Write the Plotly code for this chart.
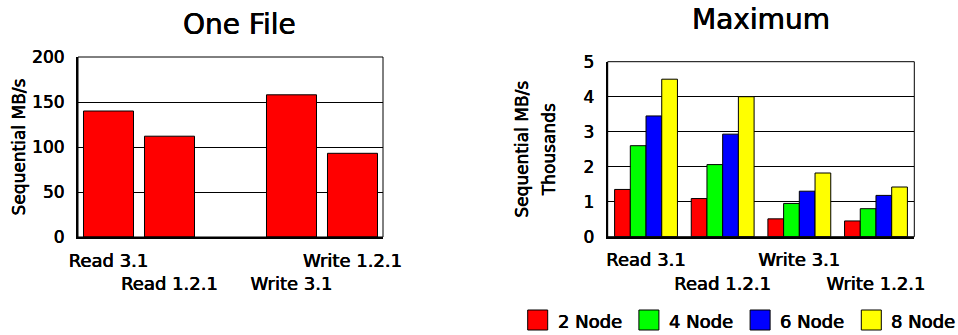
import plotly.graph_objects as go

# ---------------- data ----------------
one_file_labels = ["Read 3.1", "Read 1.2.1", "", "Write 3.1", "Write 1.2.1"]
one_file_values = [140, 112, None, 158, 93]

max_labels = ["Read 3.1", "Read 1.2.1", "Write 3.1", "Write 1.2.1"]
node_names = ["2 Node", "4 Node", "6 Node", "8 Node"]
node_colors = ["#FF0000", "#00FF00", "#0000FF", "#FFFF00"]
node_2 = [1.35, 1.09, 0.51, 0.45]
node_4 = [2.60, 2.06, 0.95, 0.80]
node_6 = [3.45, 2.93, 1.30, 1.18]
node_8 = [4.50, 4.00, 1.82, 1.42]
node_values = [node_2, node_4, node_6, node_8]

W, H = 958, 335
FONT = "DejaVu Sans"
SHADOW = "0.3px 0 0 #000, -0.3px 0 0 #000"


def fx(px):
    return px / W


def fy(py):
    return 1 - py / H


def font(size):
    return dict(family=FONT, size=size, color="#000000", shadow=SHADOW)


def stagger(labels):
    return [("<br>" + t if i % 2 else t) for i, t in enumerate(labels)]


fig = go.Figure()

# left chart
fig.add_trace(go.Bar(
    x=list(range(len(one_file_labels))), y=one_file_values,
    marker=dict(color="#FF0000", line=dict(color="#000000", width=1)),
    xaxis="x", yaxis="y", showlegend=False,
))

# right chart
for name, color, vals in zip(node_names, node_colors, node_values):
    fig.add_trace(go.Bar(
        x=list(range(len(max_labels))), y=vals, name=name,
        marker=dict(color=color, line=dict(color="#000000", width=1)),
        xaxis="x2", yaxis="y2", showlegend=False,
    ))

axis_common = dict(showline=True, linecolor="#000000", linewidth=2, ticks="", automargin=False)

right_ytitle = "<br>".join(
    f"<span style='font-size:17px'>{t}</span>" for t in ["Sequential MB/s", "Thousands"])

fig.update_layout(
    template="none",
    width=W, height=H, margin=dict(l=0, r=0, t=0, b=0, autoexpand=False),
    paper_bgcolor="white", plot_bgcolor="white",
    barmode="group", bargap=0.18, bargroupgap=0,
    font=dict(family=FONT, color="#000000"),
    xaxis=dict(domain=[fx(78), fx(383)], range=[-0.5, len(one_file_labels) - 0.5],
               tickvals=list(range(len(one_file_labels))), ticktext=stagger(one_file_labels),
               tickangle=0, tickfont=font(18),
               showgrid=False, zeroline=False, anchor="y", ticklabelstandoff=6, **axis_common),
    yaxis=dict(domain=[fy(237), fy(57)], range=[0, 200], dtick=50, tickfont=font(17),
               showgrid=True, gridcolor="#000000", gridwidth=1, zeroline=False,
               anchor="x", ticklabelstandoff=8,
               title=dict(text="Sequential MB/s", font=font(17), standoff=2),
               **axis_common),
    xaxis2=dict(domain=[fx(607.7), fx(914.3)], range=[-0.5, len(max_labels) - 0.5],
                tickvals=list(range(len(max_labels))), ticktext=stagger(max_labels),
                tickangle=0, tickfont=font(18),
                showgrid=False, zeroline=False, anchor="y2", ticklabelstandoff=6, **axis_common),
    yaxis2=dict(domain=[fy(236.7), fy(61.7)], range=[0, 5], dtick=1, tickfont=font(17),
                showgrid=True, gridcolor="#000000", gridwidth=1, zeroline=False,
                anchor="x2", ticklabelstandoff=8,
                title=dict(text=right_ytitle, font=font(21), standoff=22),
                **axis_common),
)

# thin frame (top / right borders)
for xr, yr in (("x domain", "y domain"), ("x2 domain", "y2 domain")):
    fig.add_shape(type="rect", xref=xr, yref=yr, x0=0, x1=1, y0=0, y1=1,
                  line=dict(color="#000000", width=1), layer="above")

# titles
fig.add_annotation(text="One File", x=fx(239.5), y=fy(25), xref="paper", yref="paper",
                   showarrow=False, xanchor="center", yanchor="middle", font=font(28))
fig.add_annotation(text="Maximum", x=fx(761), y=fy(20), xref="paper", yref="paper",
                   showarrow=False, xanchor="center", yanchor="middle", font=font(28))

# legend (manual, large boxes)
leg_x0, leg_step, box = 527.7, 111.2, 20
for i, (name, color) in enumerate(zip(node_names, node_colors)):
    x0 = leg_x0 + i * leg_step
    fig.add_shape(type="rect", xref="paper", yref="paper",
                  x0=fx(x0), x1=fx(x0 + box), y0=fy(330), y1=fy(310),
                  fillcolor=color, line=dict(color="#000000", width=1))
    fig.add_annotation(text=name, x=fx(x0 + box + 8), y=fy(321), xref="paper", yref="paper",
                       showarrow=False, xanchor="left", yanchor="middle", font=font(18))

fig.write_html("out.html")
